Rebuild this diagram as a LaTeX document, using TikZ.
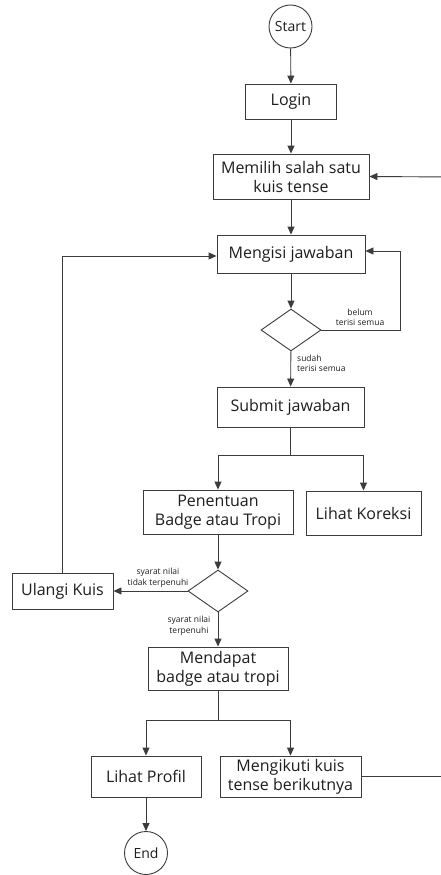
\documentclass[tikz,border=0pt]{standalone}
\usepackage{fontspec}
\setmainfont{Open Sans}
\usetikzlibrary{arrows.meta,positioning,shapes.geometric}
\definecolor{ln}{HTML}{3C3C3C}
\definecolor{tx}{HTML}{1E1E1E}
\begin{document}
\begin{tikzpicture}[x=1pt,y=-1pt,
  box/.style={draw=ln,line width=0.9pt,fill=white,text=tx,inner sep=0pt,align=center,
    font=\fontsize{16}{19}\selectfont},
  term/.style={draw=ln,line width=0.9pt,circle,inner sep=0pt,minimum size=43pt,text=tx,
    font=\fontsize{14}{16}\selectfont},
  dec/.style={draw=ln,line width=0.9pt,diamond,inner sep=0pt,minimum width=60pt,minimum height=42pt},
  arr/.style={draw=ln,line width=0.9pt,-{Triangle[length=8pt,width=7pt]}},
  ln/.style={draw=ln,line width=0.9pt},
  lbl/.style={text=tx,inner sep=0pt,align=center,font=\fontsize{8.5}{10.5}\selectfont}
]
\useasboundingbox[fill=white] (0,0) rectangle (440,875);
\node[term] (start) at (290.5,26.5) {Start};
\node[box,minimum width=91pt,minimum height=35pt] (login) at (291,101.5) {Login};
\node[box,minimum width=156pt,minimum height=45pt] (memilih) at (291,176.5) {Memilih salah satu\\kuis tense};
\node[box,minimum width=148pt,minimum height=38pt] (mengisi) at (291,254) {Mengisi jawaban};
\node[dec] (d1) at (291,330) {};
\node[box,minimum width=147pt,minimum height=40pt] (submit) at (290.5,407) {Submit jawaban};
\node[box,minimum width=150pt,minimum height=44pt] (penentuan) at (218,512) {Penentuan\\Badge atau Tropi};
\node[box,minimum width=115pt,minimum height=44pt] (koreksi) at (363.5,513) {Lihat Koreksi};
\node[dec] (d2) at (218,591) {};
\node[box,minimum width=101pt,minimum height=36pt] (ulangi) at (62.5,591) {Ulangi Kuis};
\node[box,minimum width=140pt,minimum height=43pt] (mendapat) at (218,668.5) {Mendapat\\badge atau tropi};
\node[box,minimum width=110pt,minimum height=41pt] (profil) at (146,776.5) {Lihat Profil};
\node[box,minimum width=141pt,minimum height=41pt] (mengikuti) at (290.5,776.5) {Mengikuti kuis\\tense berikutnya};
\node[term] (end) at (146,853) {End};

\coordinate (br1) at (290.5,455);
\coordinate (br2) at (218,720);
\coordinate (offr) at (452,776.5);
\coordinate (offr2) at (452,177);

\draw[arr] (start) -- (login);
\draw[arr] (login) -- (memilih);
\draw[arr] (memilih) -- (mengisi);
\draw[arr] (mengisi) -- (d1);
\draw[arr] (d1.east) -- (400,330) |- ([yshift=3pt]mengisi.east);
\draw[arr] (d1) -- (submit);
\draw[ln] (submit) -- (br1);
\draw[arr] (br1) -| (penentuan.north);
\draw[arr] (br1) -| (koreksi.north);
\draw[arr] (penentuan) -- (d2);
\draw[arr] (d2) -- (ulangi);
\draw[arr] (ulangi.north) |- ([yshift=-2pt]mengisi.west);
\draw[arr] (d2) -- (mendapat);
\draw[ln] (mendapat) -- (br2);
\draw[arr] (br2) -| (profil.north);
\draw[arr] (br2) -| (mengikuti.north);
\draw[arr] (profil) -- (end);
\draw[arr] (mengikuti.east) -- (offr) -- (offr2) -- (memilih.east);

\node[lbl] (l1) at (360,317.5) {belum\\terisi semua};
\node[lbl,anchor=west,align=left] (l2) at (297,363.5) {sudah\\terisi semua};
\node[lbl] (l3) at (158,578) {syarat nilai\\tidak terpenuhi};
\node[lbl] (l4) at (189,626) {syarat nilai\\terpenuhi};
\end{tikzpicture}
\end{document}
